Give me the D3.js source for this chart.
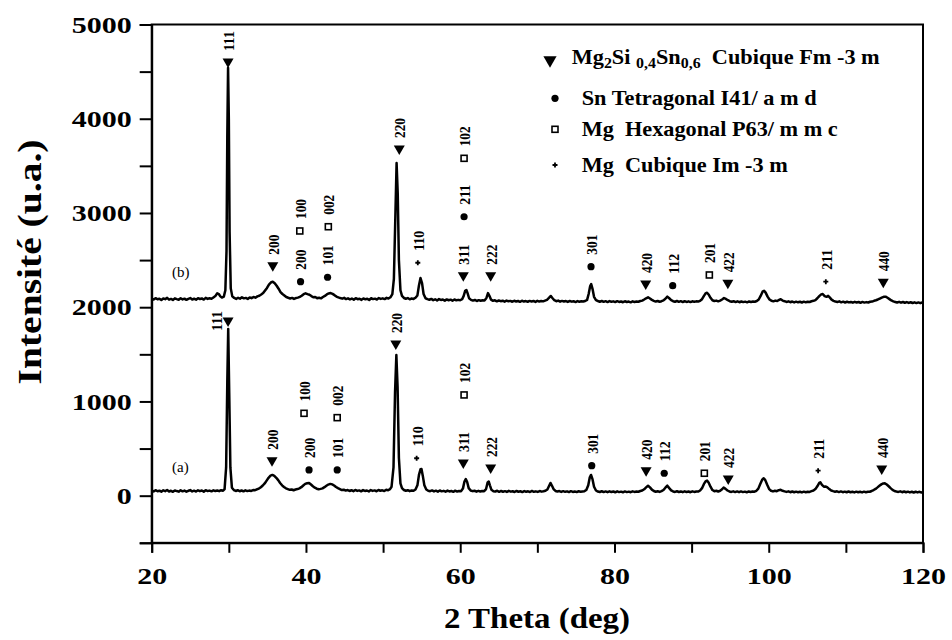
<!DOCTYPE html>
<html><head><meta charset="utf-8">
<script src="https://cdn.jsdelivr.net/npm/d3@7"></script>
<style>body{margin:0;background:#fff} text{font-family:"Liberation Serif","Times New Roman",serif;}</style>
</head><body>
<svg id="c" width="952" height="640"></svg>
<script>
// ---------- data ----------
const xTickValues = [20,30,40,50,60,70,80,90,100,110,120];
const xTickLabels = [20,40,60,80,100,120];
const yTickValues = [-500,0,500,1000,1500,2000,2500,3000,3500,4000,4500,5000];
const yTickLabels = [0,1000,2000,3000,4000,5000];

// pattern (b) : [2theta, intensity]
const patternB = [
[20.0,2092],[20.25,2081],[20.5,2096],[20.75,2084],[21.0,2090],[21.25,2076],[21.5,2093],[21.75,2085],[22.0,2099],[22.25,2080],
[22.5,2088],[22.75,2077],[23.0,2094],[23.25,2086],[23.5,2079],[23.75,2095],[24.0,2083],[24.25,2091],[24.5,2078],[24.75,2089],
[25.0,2097],[25.25,2082],[25.5,2090],[25.75,2080],[26.0,2096],[26.25,2087],[26.5,2093],[26.75,2081],[27.0,2099],[27.25,2088],
[27.5,2095],[27.75,2090],[28.0,2104],[28.25,2118],[28.5,2148],[28.7,2140],[28.9,2115],[29.1,2102],[29.35,2112],[29.55,2180],
[29.7,2600],[29.8,3800],[29.9,4540],[30.0,4000],[30.1,2800],[30.25,2200],[30.45,2115],[30.7,2098],[30.95,2088],[31.2,2100],
[31.45,2091],[31.7,2105],[31.95,2094],[32.2,2099],[32.45,2088],[32.7,2103],[32.95,2096],[33.2,2108],[33.45,2101],[33.7,2115],
[33.95,2122],[34.2,2135],[34.45,2150],[34.7,2178],[34.95,2205],[35.2,2240],[35.45,2262],[35.7,2271],[35.95,2255],[36.2,2228],
[36.45,2196],[36.7,2160],[36.95,2140],[37.2,2125],[37.45,2108],[37.7,2100],[37.95,2093],[38.2,2099],[38.45,2088],[38.7,2097],
[38.95,2102],[39.2,2110],[39.45,2122],[39.7,2138],[39.95,2147],[40.2,2139],[40.45,2132],[40.7,2118],[40.95,2105],[41.2,2109],
[41.45,2096],[41.7,2100],[41.95,2094],[42.2,2108],[42.45,2120],[42.7,2136],[42.95,2146],[43.2,2150],[43.45,2141],[43.7,2128],
[43.95,2113],[44.2,2104],[44.45,2097],[44.7,2091],[44.95,2099],[45.2,2086],[45.45,2094],[45.7,2083],[45.95,2092],[46.2,2080],
[46.45,2096],[46.7,2085],[46.95,2090],[47.2,2078],[47.45,2093],[47.7,2084],[47.95,2089],[48.2,2077],[48.45,2095],[48.7,2086],
[48.95,2091],[49.2,2082],[49.45,2097],[49.7,2088],[49.95,2094],[50.2,2086],[50.45,2099],[50.7,2092],[50.95,2105],[51.2,2140],
[51.4,2300],[51.6,3000],[51.75,3530],[51.9,3200],[52.05,2500],[52.25,2180],[52.45,2120],[52.7,2098],[52.95,2090],[53.2,2097],
[53.45,2084],[53.7,2092],[53.95,2088],[54.2,2100],[54.45,2125],[54.65,2230],[54.85,2310],[55.05,2255],[55.25,2140],[55.5,2095],
[55.75,2086],[56.0,2079],[56.25,2088],[56.5,2075],[56.75,2084],[57.0,2072],[57.25,2086],[57.5,2077],[57.75,2081],[58.0,2070],
[58.25,2083],[58.5,2074],[58.75,2080],[59.0,2069],[59.25,2082],[59.5,2073],[59.75,2078],[60.0,2074],[60.25,2085],[60.45,2120],
[60.65,2175],[60.8,2183],[60.95,2150],[61.15,2095],[61.4,2078],[61.65,2070],[61.9,2077],[62.15,2066],[62.4,2075],[62.65,2068],
[62.9,2074],[63.15,2072],[63.4,2098],[63.6,2150],[63.8,2118],[64.0,2080],[64.25,2068],[64.5,2073],[64.75,2062],[65.0,2071],
[65.25,2064],[65.5,2069],[65.75,2059],[66.0,2070],[66.25,2063],[66.5,2067],[66.75,2058],[67.0,2068],[67.25,2061],[67.5,2066],
[67.75,2057],[68.0,2069],[68.25,2060],[68.5,2065],[68.75,2058],[69.0,2067],[69.25,2061],[69.5,2066],[69.75,2056],[70.0,2068],
[70.25,2060],[70.5,2065],[70.75,2062],[71.0,2070],[71.25,2078],[71.5,2098],[71.75,2119],[71.95,2098],[72.2,2074],[72.45,2064],
[72.7,2070],[72.95,2059],[73.2,2067],[73.45,2060],[73.7,2065],[73.95,2056],[74.2,2066],[74.45,2059],[74.7,2064],[74.95,2055],
[75.2,2065],[75.45,2058],[75.7,2063],[75.95,2060],[76.2,2066],[76.45,2078],[76.65,2140],[76.85,2225],[76.98,2246],[77.15,2195],
[77.35,2110],[77.6,2075],[77.85,2066],[78.1,2058],[78.35,2066],[78.6,2057],[78.85,2064],[79.1,2055],[79.35,2065],[79.6,2058],
[79.85,2062],[80.1,2054],[80.35,2064],[80.6,2056],[80.85,2061],[81.1,2053],[81.35,2063],[81.6,2055],[81.85,2060],[82.1,2052],
[82.35,2062],[82.6,2055],[82.85,2060],[83.1,2058],[83.35,2066],[83.6,2070],[83.85,2082],[84.1,2095],[84.35,2105],[84.6,2092],
[84.85,2078],[85.1,2068],[85.35,2060],[85.6,2066],[85.85,2058],[86.1,2064],[86.35,2072],[86.6,2090],[86.85,2112],[87.1,2095],
[87.35,2075],[87.6,2064],[87.85,2058],[88.1,2066],[88.35,2057],[88.6,2064],[88.85,2055],[89.1,2063],[89.35,2056],[89.6,2062],
[89.85,2054],[90.1,2063],[90.35,2057],[90.6,2062],[90.85,2060],[91.1,2068],[91.35,2085],[91.6,2120],[91.85,2150],[92.0,2154],
[92.2,2135],[92.45,2100],[92.7,2074],[92.95,2066],[93.2,2070],[93.45,2062],[93.7,2070],[93.95,2082],[94.2,2097],[94.45,2088],
[94.7,2074],[94.95,2064],[95.2,2058],[95.45,2064],[95.7,2055],[95.95,2062],[96.2,2053],[96.45,2061],[96.7,2054],[96.95,2059],
[97.2,2052],[97.45,2061],[97.7,2055],[97.95,2060],[98.2,2058],[98.45,2066],[98.7,2082],[98.95,2120],[99.2,2165],[99.4,2175],
[99.6,2155],[99.85,2112],[100.1,2082],[100.35,2068],[100.6,2062],[100.85,2070],[101.1,2066],[101.35,2078],[101.55,2085],[101.8,2070],
[102.05,2064],[102.3,2056],[102.55,2062],[102.8,2053],[103.05,2060],[103.3,2051],[103.55,2059],[103.8,2052],[104.05,2058],[104.3,2050],
[104.55,2059],[104.8,2052],[105.05,2057],[105.3,2055],[105.55,2063],[105.8,2068],[106.05,2076],[106.3,2095],[106.55,2118],[106.8,2136],
[107.0,2140],[107.25,2118],[107.5,2110],[107.7,2120],[107.9,2104],[108.15,2080],[108.4,2068],[108.65,2060],[108.9,2056],[109.15,2062],
[109.4,2052],[109.65,2059],[109.9,2050],[110.15,2058],[110.4,2051],[110.65,2056],[110.9,2048],[111.15,2057],[111.4,2050],[111.65,2055],
[111.9,2047],[112.15,2056],[112.4,2049],[112.65,2054],[112.9,2050],[113.15,2058],[113.4,2060],[113.65,2068],[113.9,2074],[114.15,2082],
[114.4,2092],[114.65,2102],[114.9,2110],[115.15,2112],[115.4,2100],[115.65,2086],[115.9,2072],[116.15,2062],[116.4,2056],[116.65,2050],
[116.9,2057],[117.15,2048],[117.4,2055],[117.65,2047],[117.9,2054],[118.15,2046],[118.4,2053],[118.65,2045],[118.9,2052],[119.15,2044],
[119.4,2051],[119.65,2043],[119.9,2050],[120.0,2046]
];

// pattern (a)
const patternA = [
[20.0,56],[20.25,45],[20.5,58],[20.75,47],[21.0,53],[21.25,42],[21.5,57],[21.75,48],[22.0,60],[22.25,44],
[22.5,52],[22.75,41],[23.0,56],[23.25,49],[23.5,43],[23.75,58],[24.0,46],[24.25,54],[24.5,42],[24.75,52],
[25.0,59],[25.25,45],[25.5,53],[25.75,44],[26.0,57],[26.25,48],[26.5,55],[26.75,43],[27.0,58],[27.25,49],
[27.5,54],[27.75,46],[28.0,57],[28.25,50],[28.5,55],[28.75,48],[29.0,58],[29.25,52],[29.45,70],[29.65,300],
[29.8,1200],[29.92,1770],[30.05,1100],[30.2,300],[30.4,85],[30.65,60],[30.9,50],[31.15,58],[31.4,47],[31.65,55],
[31.9,46],[32.15,57],[32.4,49],[32.65,54],[32.9,50],[33.15,60],[33.4,58],[33.65,68],[33.9,75],[34.15,90],
[34.4,108],[34.65,130],[34.9,160],[35.15,190],[35.4,212],[35.65,220],[35.9,210],[36.15,190],[36.4,165],[36.65,135],
[36.9,110],[37.15,92],[37.4,78],[37.65,70],[37.9,62],[38.15,66],[38.4,58],[38.65,65],[38.9,70],[39.15,78],
[39.4,90],[39.65,108],[39.9,125],[40.15,132],[40.4,135],[40.65,118],[40.9,100],[41.15,85],[41.4,74],[41.65,68],
[41.9,72],[42.15,78],[42.4,90],[42.65,105],[42.9,118],[43.15,125],[43.4,120],[43.65,108],[43.9,92],[44.15,80],
[44.4,70],[44.65,60],[44.9,64],[45.15,54],[45.4,60],[45.65,50],[45.9,58],[46.15,48],[46.4,61],[46.65,51],
[46.9,56],[47.15,46],[47.4,59],[47.65,50],[47.9,55],[48.15,45],[48.4,60],[48.65,51],[48.9,56],[49.15,47],
[49.4,60],[49.65,52],[49.9,57],[50.15,50],[50.4,62],[50.65,58],[50.9,70],[51.1,95],[51.35,300],[51.55,1100],
[51.72,1493],[51.88,1150],[52.05,400],[52.25,130],[52.45,80],[52.7,60],[52.95,52],[53.2,58],[53.45,48],[53.7,56],
[53.95,52],[54.2,65],[54.45,110],[54.65,220],[54.85,280],[54.98,283],[55.15,210],[55.35,110],[55.6,65],[55.85,52],
[56.1,48],[56.35,56],[56.6,45],[56.85,53],[57.1,43],[57.35,55],[57.6,46],[57.85,51],[58.1,42],[58.35,54],
[58.6,45],[58.85,50],[59.1,41],[59.35,53],[59.6,44],[59.85,49],[60.1,48],[60.35,75],[60.55,150],[60.72,177],
[60.9,145],[61.1,80],[61.35,55],[61.6,48],[61.85,53],[62.1,43],[62.35,51],[62.6,44],[62.85,50],[63.1,48],
[63.35,70],[63.55,140],[63.7,150],[63.85,110],[64.05,62],[64.3,48],[64.55,44],[64.8,52],[65.05,41],[65.3,50],
[65.55,42],[65.8,48],[66.05,40],[66.3,51],[66.55,43],[66.8,47],[67.05,39],[67.3,50],[67.55,42],[67.8,47],
[68.05,38],[68.3,49],[68.55,42],[68.8,46],[69.05,39],[69.3,50],[69.55,41],[69.8,46],[70.05,40],[70.3,49],
[70.55,43],[70.8,47],[71.05,52],[71.3,65],[71.5,100],[71.7,135],[71.9,105],[72.1,70],[72.35,50],[72.6,44],
[72.85,49],[73.1,40],[73.35,48],[73.6,41],[73.85,46],[74.1,38],[74.35,48],[74.6,40],[74.85,45],[75.1,38],
[75.35,47],[75.6,41],[75.85,45],[76.1,48],[76.35,60],[76.6,110],[76.8,195],[76.96,220],[77.15,175],[77.35,95],
[77.6,55],[77.85,44],[78.1,39],[78.35,47],[78.6,38],[78.85,45],[79.1,37],[79.35,46],[79.6,39],[79.85,44],
[80.1,36],[80.35,46],[80.6,38],[80.85,43],[81.1,36],[81.35,45],[81.6,38],[81.85,43],[82.1,37],[82.35,46],
[82.6,40],[82.85,44],[83.1,42],[83.35,50],[83.6,55],[83.85,68],[84.1,88],[84.35,106],[84.6,88],[84.85,64],
[85.1,50],[85.35,42],[85.6,47],[85.85,40],[86.1,48],[86.35,60],[86.6,85],[86.85,106],[87.1,80],[87.35,56],
[87.6,45],[87.85,40],[88.1,47],[88.35,39],[88.6,45],[88.85,37],[89.1,46],[89.35,39],[89.6,44],[89.85,37],
[90.1,46],[90.35,40],[90.6,45],[90.85,44],[91.1,55],[91.35,80],[91.6,125],[91.85,155],[92.0,160],[92.2,140],
[92.45,95],[92.7,60],[92.95,48],[93.2,52],[93.45,44],[93.7,52],[93.95,68],[94.15,86],[94.4,72],[94.65,55],
[94.9,45],[95.15,40],[95.4,46],[95.65,38],[95.9,45],[96.15,37],[96.4,45],[96.65,38],[96.9,43],[97.15,36],
[97.4,45],[97.65,39],[97.9,44],[98.15,42],[98.4,52],[98.65,75],[98.9,125],[99.15,170],[99.35,185],[99.55,165],
[99.8,115],[100.05,70],[100.3,52],[100.55,45],[100.8,52],[101.05,48],[101.3,58],[101.55,62],[101.8,52],[102.05,46],
[102.3,40],[102.55,46],[102.8,37],[103.05,44],[103.3,36],[103.55,43],[103.8,37],[104.05,42],[104.3,35],[104.55,43],
[104.8,37],[105.05,42],[105.3,40],[105.55,48],[105.8,55],[106.05,70],[106.3,100],[106.55,135],[106.7,142],[106.9,115],
[107.15,95],[107.4,98],[107.6,88],[107.85,70],[108.1,55],[108.35,48],[108.6,42],[108.85,46],[109.1,38],[109.35,45],
[109.6,37],[109.85,43],[110.1,36],[110.35,44],[110.6,37],[110.85,42],[111.1,35],[111.35,43],[111.6,36],[111.85,41],
[112.1,35],[112.35,43],[112.6,37],[112.85,42],[113.1,42],[113.35,50],[113.6,60],[113.85,72],[114.1,88],[114.35,105],
[114.6,120],[114.85,130],[115.05,131],[115.3,118],[115.55,100],[115.8,80],[116.05,62],[116.3,50],[116.55,44],[116.8,40],
[117.05,46],[117.3,37],[117.55,44],[117.8,36],[118.05,43],[118.3,35],[118.55,42],[118.8,34],[119.05,42],[119.3,35],
[119.55,41],[119.8,34],[120.0,38]
];

// peak markers: [symbol, hkl, 2theta, intensity, label side]
const markersB = [
["tri","111",29.9,4591,"up"],["tri","200",35.7,2430,"up"],["dot","200",39.3,2271,"up"],["sq","100",39.2,2809,"up"],
["dot","101",42.8,2318,"up"],["sq","002",42.9,2854,"up"],["tri","220",52.1,3668,"up"],["plus","110",54.5,2472,"up"],
["tri","311",60.4,2324,"up"],["dot","211",60.5,2960,"up"],["sq","102",60.5,3580,"up"],["tri","222",63.95,2324,"up"],
["dot","301",76.96,2430,"up"],["tri","420",84.05,2236,"up"],["dot","112",87.55,2228,"up"],["sq","201",92.3,2342,"up"],
["tri","422",94.7,2243,"up"],["plus","211",107.4,2271,"up"],["tri","440",114.85,2254,"up"]
];
const markersA = [
["tri","111",29.9,1843,"left"],["tri","200",35.6,361,"up"],["dot","200",40.4,273,"up"],["sq","100",39.75,874,"up"],
["dot","101",44.05,273,"up"],["sq","002",44.05,828,"up"],["tri","220",51.65,1599,"up"],["plus","110",54.35,397,"up"],
["tri","311",60.4,336,"up"],["sq","102",60.5,1069,"up"],["tri","222",63.95,283,"up"],
["dot","301",77.05,318,"up"],["tri","420",84.1,255,"up"],["dot","112",86.45,238,"up"],["sq","201",91.65,238,"up"],
["tri","422",94.75,167,"up"],["plus","211",106.4,265,"up"],["tri","440",114.65,273,"up"]
];

const legendSymbols = ["tri","dot","sq","plus"];
const legendTexts = [
  ["Mg","2","Si ","0,4","Sn","0,6","  Cubique Fm -3 m"],
  "Sn Tetragonal I41/ a m d",
  "Mg  Hexagonal P63/ m m c",
  "Mg  Cubique Im -3 m"
];
const seriesNames = ["(b)","(a)"];

// ---------- drawing ----------
const FONT = "'Liberation Serif','Times New Roman',serif";
const svg = d3.select("#c");
svg.append("rect").attr("width",952).attr("height",640).attr("fill","#fff");

const x = d3.scaleLinear().domain([20,120]).range([151.7,923]);
const y = d3.scaleLinear().domain([-500,5000]).range([542.8,24.5]);

// frame
svg.append("rect").attr("x",x(20)).attr("y",y(5000))
  .attr("width",x(120)-x(20)).attr("height",y(-500)-y(5000))
  .attr("fill","none").attr("stroke","#000").attr("stroke-width",2);

// x axis
const gx = svg.append("g").attr("transform",`translate(0,${y(-500)})`)
  .call(d3.axisBottom(x).tickValues(xTickValues).tickSize(10).tickPadding(10)
    .tickFormat(d => xTickLabels.includes(d) ? String(d) : ""));
gx.attr("font-family",null);
gx.select(".domain").attr("stroke-width",2);
gx.selectAll(".tick line").attr("stroke-width",2);
gx.selectAll(".tick text")
  .attr("font-family",FONT).attr("font-weight","bold").attr("font-size",24).attr("fill","#000")
  .attr("dy","0.9em")
  .each(function(d){ const s=String(d); if(xTickLabels.includes(d)) d3.select(this).attr("textLength",15*s.length).attr("lengthAdjust","spacingAndGlyphs"); });

// y axis
const gy = svg.append("g").attr("transform",`translate(${x(20)},0)`)
  .call(d3.axisLeft(y).tickValues(yTickValues).tickSize(12).tickPadding(8)
    .tickFormat(d => yTickLabels.includes(d) ? String(d) : ""));
gy.attr("font-family",null);
gy.select(".domain").attr("stroke-width",2);
gy.selectAll(".tick line").attr("stroke-width",2);
gy.selectAll(".tick text")
  .attr("font-family",FONT).attr("font-weight","bold").attr("font-size",24).attr("fill","#000")
  .each(function(d){ const s=String(d); if(yTickLabels.includes(d)) d3.select(this).attr("textLength",15*s.length).attr("lengthAdjust","spacingAndGlyphs"); });

// axis titles
svg.append("text").attr("x",537).attr("y",628).attr("text-anchor","middle")
  .attr("font-family",FONT).attr("font-weight","bold").attr("font-size",29)
  .attr("textLength",186).attr("lengthAdjust","spacingAndGlyphs")
  .text("2 Theta (deg)");
svg.append("text").attr("transform","translate(41,262) rotate(-90)").attr("text-anchor","middle")
  .attr("font-family",FONT).attr("font-weight","bold").attr("font-size",33)
  .attr("textLength",245).attr("lengthAdjust","spacingAndGlyphs")
  .text("Intensité (u.a.)");

// patterns
const line = d3.line().x(d=>x(d[0])).y(d=>y(d[1]));
[patternB, patternA].forEach(p=>{
  svg.append("path").datum(p).attr("d",line).attr("fill","none")
    .attr("stroke","#000").attr("stroke-width",2.5).attr("stroke-linejoin","round");
});

// symbols
function drawSymbol(g, type, cx, cy, big){
  const k = big ? 1.2 : 1;
  if(type==="tri"){
    g.append("path").attr("d",`M${cx-5.5*k},${cy-4.5*k}L${cx+5.5*k},${cy-4.5*k}L${cx},${cy+5*k}Z`).attr("fill","#000");
  } else if(type==="dot"){
    g.append("circle").attr("cx",cx).attr("cy",cy).attr("r",3.6).attr("fill","#000");
  } else if(type==="sq"){
    g.append("rect").attr("x",cx-3).attr("y",cy-3).attr("width",6).attr("height",6)
      .attr("fill","#fff").attr("stroke","#000").attr("stroke-width",1.6);
  } else {
    g.append("path").attr("d",`M${cx-2.5},${cy}H${cx+2.5}M${cx},${cy-2.5}V${cy+2.5}`)
      .attr("stroke","#000").attr("stroke-width",1.8);
  }
}
const mg = svg.append("g");
[markersB, markersA].forEach(ms=>{
  ms.forEach(m=>{
    const cx = x(m[2]), cy = y(m[3]);
    drawSymbol(mg, m[0], cx, cy);
    const tx = m[4]==="left" ? cx-11 : cx+1;
    const ty = m[4]==="left" ? cy+9 : cy-12;
    mg.append("text").attr("transform",`translate(${tx},${ty}) rotate(-90)`)
      .attr("dy","0.35em").attr("text-anchor","start")
      .attr("font-family",FONT).attr("font-weight","bold").attr("font-size",14)
      .attr("textLength",20).attr("lengthAdjust","spacingAndGlyphs")
      .text(m[1]);
  });
});

// series labels
svg.append("text").attr("x",172).attr("y",277).attr("font-family",FONT).attr("font-size",15).text(seriesNames[0]);
svg.append("text").attr("x",172).attr("y",472).attr("font-family",FONT).attr("font-size",15).text(seriesNames[1]);

// legend
const lg = svg.append("g");
const legRowsY = [61.7, 98.3, 129.3, 165];
legendSymbols.forEach((s,i)=>drawSymbol(lg, s, i===0?550:555, legRowsY[i], i===0));
const t0 = lg.append("text").attr("x",571.7).attr("y",63.5)
  .attr("font-family",FONT).attr("font-weight","bold").attr("font-size",21)
  .attr("textLength",308).attr("lengthAdjust","spacingAndGlyphs").attr("xml:space","preserve");
legendTexts[0].forEach((s,i)=>{
  const sub = i%2===1 && i<6;
  t0.append("tspan").attr("font-size",sub?15:21).attr("dy", i===0?0:(sub?4:-4)).text(s);
});
const legLens = [null, 235, 256, 206];
[1,2,3].forEach(i=>{
  lg.append("text").attr("x",581.7).attr("y",legRowsY[i]+7)
    .attr("font-family",FONT).attr("font-weight","bold").attr("font-size",21)
    .attr("textLength",legLens[i]).attr("lengthAdjust","spacingAndGlyphs")
    .attr("xml:space","preserve")
    .text(legendTexts[i]);
});
</script>
</body></html>
